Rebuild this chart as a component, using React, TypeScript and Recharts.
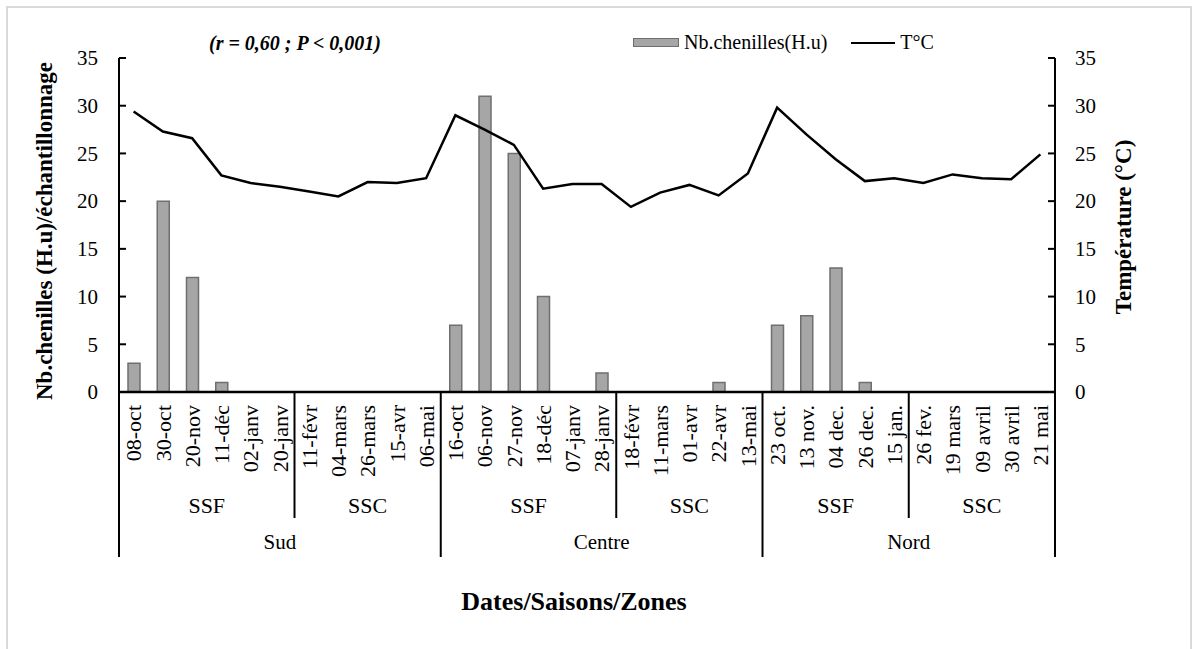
import { Bar, ComposedChart, Legend, Line, XAxis, YAxis } from "recharts"

const FONT = '"Liberation Serif", "Times New Roman", serif'

// categories (one per sampling date)
const dates = [
  "08-oct", "30-oct", "20-nov", "11-déc", "02-janv", "20-janv",
  "11-févr", "04-mars", "26-mars", "15-avr", "06-mai",
  "16-oct", "06-nov", "27-nov", "18-déc", "07-janv", "28-janv",
  "18-févr", "11-mars", "01-avr", "22-avr", "13-mai",
  "23 oct.", "13 nov.", "04 dec.", "26 dec.", "15 jan.",
  "26 fev.", "19 mars", "09 avril", "30 avril", "21 mai",
]

const seasons = [
  "SSF", "SSF", "SSF", "SSF", "SSF", "SSF", "SSC", "SSC", "SSC", "SSC", "SSC",
  "SSF", "SSF", "SSF", "SSF", "SSF", "SSF", "SSC", "SSC", "SSC", "SSC", "SSC",
  "SSF", "SSF", "SSF", "SSF", "SSF", "SSC", "SSC", "SSC", "SSC", "SSC",
]

const zones = [
  "Sud", "Sud", "Sud", "Sud", "Sud", "Sud", "Sud", "Sud", "Sud", "Sud", "Sud",
  "Centre", "Centre", "Centre", "Centre", "Centre", "Centre", "Centre", "Centre", "Centre", "Centre", "Centre",
  "Nord", "Nord", "Nord", "Nord", "Nord", "Nord", "Nord", "Nord", "Nord", "Nord",
]

const chenilles = [
  3, 20, 12, 1, 0, 0, 0, 0, 0, 0, 0,
  7, 31, 25, 10, 0, 2, 0, 0, 0, 1, 0,
  7, 8, 13, 1, 0, 0, 0, 0, 0, 0,
]

const temperature = [
  29.4, 27.3, 26.6, 22.7, 21.9, 21.5, 21.0, 20.5, 22.0, 21.9, 22.4,
  29.0, 27.5, 25.9, 21.3, 21.8, 21.8, 19.4, 20.9, 21.7, 20.6, 22.9,
  29.8, 27.0, 24.4, 22.1, 22.4, 21.9, 22.8, 22.4, 22.3, 24.9,
]

const yTicks = [0, 5, 10, 15, 20, 25, 30, 35]

const data = dates.map((date, i) => ({
  date,
  chenilles: chenilles[i],
  temp: temperature[i],
}))

const W = 1197
const H = 649
const MARGIN = { top: 58, right: 82, bottom: 92, left: 59 }
const Y_W = 60
const PLOT_W = W - MARGIN.left - MARGIN.right - 2 * Y_W
const BAND = PLOT_W / dates.length
const DATE_H = 88
const SEASON_H = 38
const ZONE_H = 39

function LeftTick({ x, y, payload }: any) {
  const ax = x + 21
  return (
    <g>
      <line x1={ax} x2={ax + 7} y1={y} y2={y} stroke="#000" strokeWidth={2} />
      <text x={x} y={y} dy="0.35em" textAnchor="end" fontSize={21} fontFamily={FONT} fill="#000">
        {payload.value}
      </text>
    </g>
  )
}

function RightTick({ x, y, payload }: any) {
  const ax = x - 20
  return (
    <g>
      <line x1={ax - 7} x2={ax} y1={y} y2={y} stroke="#000" strokeWidth={2} />
      <text x={x} y={y} dy="0.35em" textAnchor="start" fontSize={21} fontFamily={FONT} fill="#000">
        {payload.value}
      </text>
    </g>
  )
}

function DateTick({ x, y, payload }: any) {
  return (
    <text
      transform={`translate(${x},${y + 13}) rotate(-90)`}
      dy="0.35em"
      textAnchor="end"
      fontSize={22}
      fontFamily={FONT}
      fill="#000"
    >
      {payload.value}
    </text>
  )
}

function groupRange(i: number, key: (k: number) => string) {
  let s = i
  while (s > 0 && key(s - 1) === key(i)) s--
  let e = i
  while (e < dates.length - 1 && key(e + 1) === key(i)) e++
  return [s, e]
}

function SeasonTick({ x, y, payload }: any) {
  const i = payload.index
  const key = (k: number) => zones[k] + seasons[k]
  const [s, e] = groupRange(i, key)
  if (i !== s) return <g />
  const cx = x + ((s + e) / 2 - i) * BAND
  const sep = i > 0 && zones[i] === zones[i - 1]
  return (
    <g>
      {sep && (
        <line x1={x - BAND / 2} x2={x - BAND / 2} y1={y - DATE_H} y2={y + SEASON_H} stroke="#000" strokeWidth={2} />
      )}
      <text x={cx} y={y + 26} textAnchor="middle" fontSize={22} fontFamily={FONT} fill="#000" dy="0.3em">
        {seasons[i]}
      </text>
    </g>
  )
}

function ZoneTick({ x, y, payload }: any) {
  const i = payload.index
  const [s, e] = groupRange(i, (k) => zones[k])
  const last = i === dates.length - 1
  const cx = x + ((s + e) / 2 - i) * BAND
  const top = y - DATE_H - SEASON_H
  return (
    <g>
      {i === s && (
        <line x1={x - BAND / 2} x2={x - BAND / 2} y1={top} y2={y + ZONE_H} stroke="#000" strokeWidth={2} />
      )}
      {last && (
        <line x1={x + BAND / 2} x2={x + BAND / 2} y1={top} y2={y + ZONE_H} stroke="#000" strokeWidth={2} />
      )}
      {i === s && (
        <text x={cx} y={y + 25} textAnchor="middle" fontSize={21} fontFamily={FONT} fill="#000" dy="0.3em">
          {zones[i]}
        </text>
      )}
    </g>
  )
}

function LegendContent() {
  return (
    <div style={{ display: "flex", alignItems: "center", fontFamily: FONT, fontSize: 20, color: "#000", whiteSpace: "nowrap" }}>
      <span style={{ display: "inline-block", width: 44, height: 7, background: "#a6a6a6", border: "1px solid #6f6f6f", marginRight: 5 }} />
      <span>Nb.chenilles(H.u)</span>
      <span style={{ display: "inline-block", width: 44, height: 0, borderTop: "2.5px solid #000", marginLeft: 24, marginRight: 5 }} />
      <span>T°C</span>
    </div>
  )
}

export default function App() {
  return (
    <div style={{ position: "absolute", left: 0, top: 0, width: W, height: H, overflow: "hidden", background: "#fff" }}>
      <div
        style={{
          position: "absolute",
          left: 6,
          top: 6,
          width: 1182,
          height: 720,
          border: "2px solid #d9d9d9",
        }}
      />
      <ComposedChart width={W} height={H} data={data} margin={MARGIN} style={{ position: "absolute", left: 0, top: 0 }}>
        <XAxis
          xAxisId="date"
          dataKey="date"
          height={DATE_H}
          interval={0}
          tickSize={0}
          tickMargin={0}
          tickLine={false}
          axisLine={{ stroke: "#000", strokeWidth: 2.5 }}
          tick={<DateTick />}
        />
        <XAxis
          xAxisId="season"
          dataKey="date"
          height={SEASON_H}
          interval={0}
          tickSize={0}
          tickMargin={0}
          tickLine={false}
          axisLine={false}
          tick={<SeasonTick />}
        />
        <XAxis
          xAxisId="zone"
          dataKey="date"
          height={ZONE_H}
          interval={0}
          tickSize={0}
          tickMargin={0}
          tickLine={false}
          axisLine={false}
          tick={<ZoneTick />}
        />
        <YAxis
          yAxisId="left"
          width={Y_W}
          domain={[0, 35]}
          ticks={yTicks}
          interval={0}
          tickSize={0}
          tickMargin={21}
          tickLine={false}
          axisLine={{ stroke: "#000", strokeWidth: 2 }}
          tick={<LeftTick />}
        />
        <YAxis
          yAxisId="right"
          orientation="right"
          width={Y_W}
          domain={[0, 35]}
          ticks={yTicks}
          interval={0}
          tickSize={0}
          tickMargin={20}
          tickLine={false}
          axisLine={{ stroke: "#000", strokeWidth: 2 }}
          tick={<RightTick />}
        />
        <Legend
          layout="vertical"
          align="center"
          verticalAlign="middle"
          content={<LegendContent />}
          wrapperStyle={{ top: 31, left: 633, width: 340, height: 26 }}
        />
        <Bar
          xAxisId="date"
          yAxisId="left"
          dataKey="chenilles"
          name="Nb.chenilles(H.u)"
          fill="#a6a6a6"
          stroke="#6f6f6f"
          strokeWidth={1.5}
          barSize={12}
          isAnimationActive={false}
        />
        <Line
          xAxisId="date"
          yAxisId="right"
          dataKey="temp"
          name="T°C"
          type="linear"
          stroke="#000"
          strokeWidth={2.5}
          dot={false}
          activeDot={false}
          isAnimationActive={false}
        />
      </ComposedChart>
      <svg width={W} height={H} style={{ position: "absolute", left: 0, top: 0, pointerEvents: "none" }}>
        <text x={295} y={43} dy="0.35em" textAnchor="middle" fontFamily={FONT} fontSize={20} fontWeight="bold" fontStyle="italic">
          (r = 0,60 ; P &lt; 0,001)
        </text>
        <text
          transform="translate(44,231) rotate(-90)"
          dy="0.35em"
          textAnchor="middle"
          fontFamily={FONT}
          fontSize={23}
          fontWeight="bold"
        >
          Nb.chenilles (H.u)/échantillonnage
        </text>
        <text
          transform="translate(1123,227) rotate(-90)"
          dy="0.35em"
          textAnchor="middle"
          fontFamily={FONT}
          fontSize={23}
          fontWeight="bold"
        >
          Température (°C)
        </text>
        <text x={574} y={601} dy="0.35em" textAnchor="middle" fontFamily={FONT} fontSize={26} fontWeight="bold">
          Dates/Saisons/Zones
        </text>
      </svg>
    </div>
  )
}
